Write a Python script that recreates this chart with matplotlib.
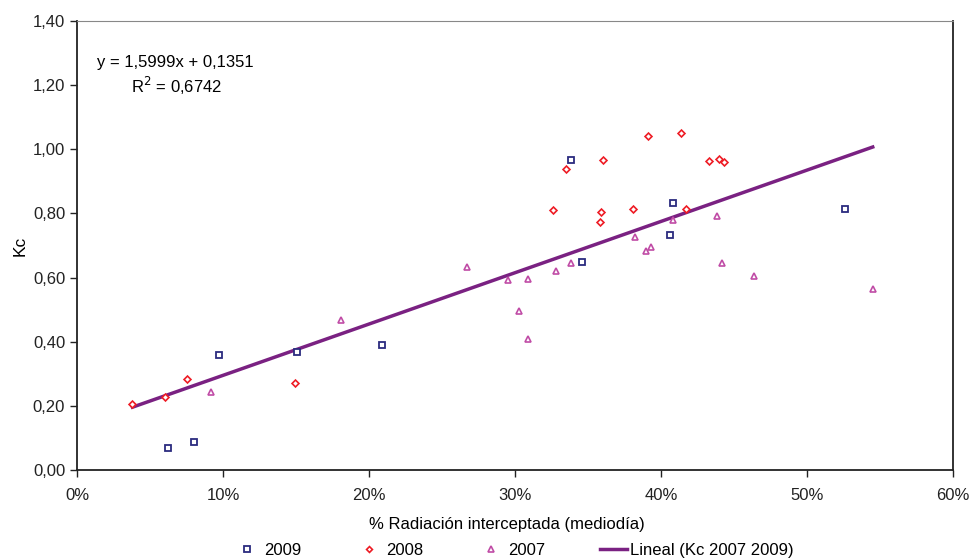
import matplotlib
matplotlib.use("Agg")
import matplotlib.pyplot as plt
from matplotlib.ticker import FuncFormatter, MultipleLocator
import numpy as np

plt.rcParams["font.family"] = ["Liberation Sans", "DejaVu Sans"]

# % radiacion interceptada (fraction) vs Kc, per season
x_2009 = [0.062, 0.080, 0.097, 0.151, 0.209, 0.338, 0.346, 0.408, 0.406, 0.526]
kc_2009 = [0.069, 0.087, 0.359, 0.368, 0.390, 0.965, 0.650, 0.832, 0.734, 0.815]

x_2008 = [0.038, 0.060, 0.075, 0.149, 0.326, 0.335, 0.360, 0.359, 0.358, 0.381,
          0.391, 0.414, 0.417, 0.433, 0.440, 0.443]
kc_2008 = [0.206, 0.227, 0.284, 0.270, 0.810, 0.938, 0.967, 0.805, 0.773, 0.815,
           1.042, 1.050, 0.815, 0.962, 0.971, 0.960]

x_2007 = [0.092, 0.181, 0.267, 0.295, 0.309, 0.303, 0.309, 0.328, 0.338, 0.382,
          0.390, 0.393, 0.408, 0.438, 0.442, 0.464, 0.545]
kc_2007 = [0.244, 0.468, 0.633, 0.592, 0.595, 0.496, 0.408, 0.621, 0.645, 0.726,
           0.684, 0.694, 0.780, 0.791, 0.645, 0.604, 0.564]

# linear fit reported for Kc 2007-2009
slope, intercept = 1.5999, 0.1351
fit_range = [0.038, 0.545]

fig = plt.figure(figsize=(9.71, 5.58), dpi=100)
ax = fig.add_axes([0.0793, 0.1577, 0.9022, 0.8047])

ax.plot(x_2009, kc_2009, "s", ms=4.5, mfc="white", mec="#2b2b7f", mew=1.3,
        ls="none", label="2009", zorder=3)
ax.plot(x_2008, kc_2008, "D", ms=3.5, mfc="white", mec="#ee1c25", mew=1.2,
        ls="none", label="2008", zorder=3)
ax.plot(x_2007, kc_2007, "^", ms=4.5, mfc="white", mec="#c04ca6", mew=1.2,
        ls="none", label="2007", zorder=3)

xf = np.array(fit_range)
ax.plot(xf, slope * xf + intercept, color="#7a2182", lw=2.5,
        label="Lineal (Kc 2007 2009)", zorder=2)

ax.set_xlim(0, 0.6)
ax.set_ylim(0, 1.4)
ax.xaxis.set_major_locator(MultipleLocator(0.1))
ax.yaxis.set_major_locator(MultipleLocator(0.2))
ax.xaxis.set_major_formatter(FuncFormatter(lambda v, p: f"{v * 100:.0f}%"))
ax.yaxis.set_major_formatter(FuncFormatter(lambda v, p: f"{v:.2f}".replace(".", ",")))
ax.tick_params(direction="out", length=5, width=1, labelsize=12, colors="#222222")
ax.tick_params(axis="x", pad=8)

for side in ["left", "bottom", "right"]:
    ax.spines[side].set_color("#222222")
    ax.spines[side].set_linewidth(1.3)
ax.spines["top"].set_color("#888888")

ax.set_xlabel("% Radiación interceptada (mediodía)", fontsize=12)
ax.xaxis.set_label_coords(0.491, -0.105)
ax.set_ylabel("Kc", fontsize=12.5, labelpad=4)

ax.text(0.0137, 1.272, "y = 1,5999x + 0,1351", fontsize=12, ha="left", va="center")
ax.text(0.037, 1.197, "R$^2$ = 0,6742", fontsize=12, ha="left", va="center")

fig.legend(loc="center left", bbox_to_anchor=(0.2253, 0.0143), ncol=4,
           frameon=False, fontsize=12, columnspacing=3.3, handlelength=1.6,
           handletextpad=0.2, markerscale=0.85)

fig.savefig("out.png", dpi=100)
